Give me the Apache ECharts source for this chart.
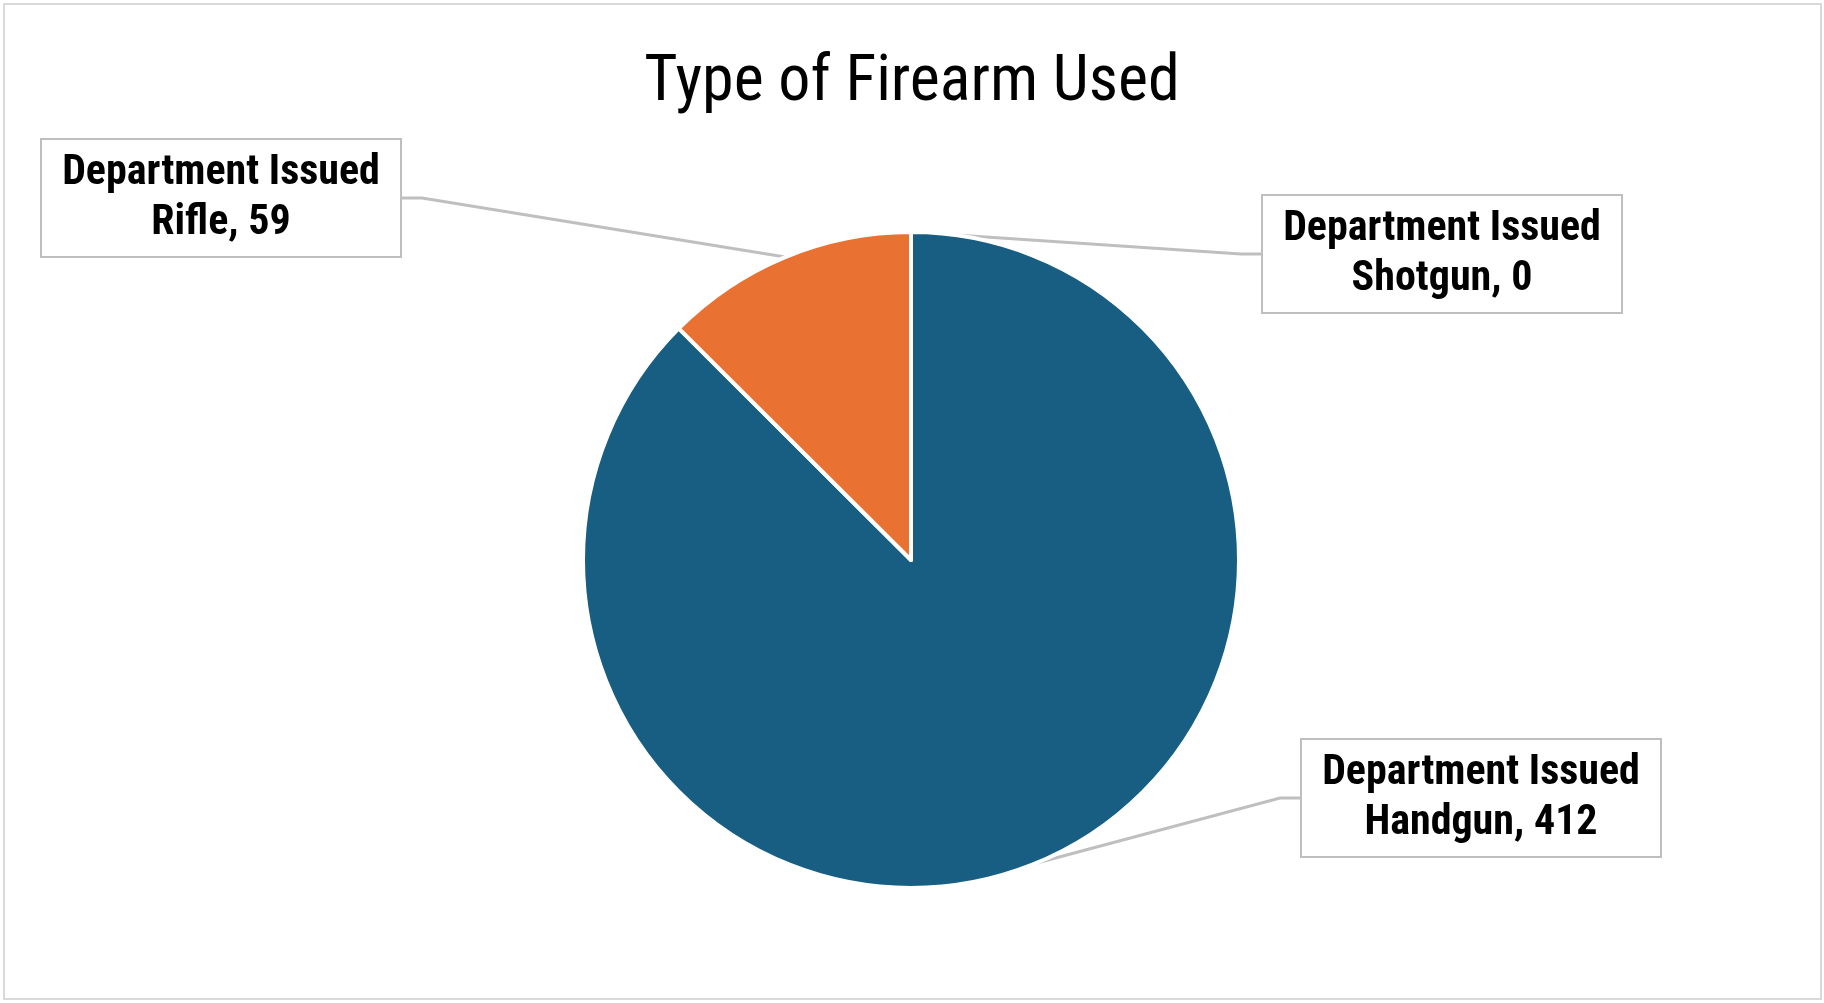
<!DOCTYPE html>
<html>
<head>
<meta charset="utf-8">
<script src="https://cdn.jsdelivr.net/npm/echarts@6/dist/echarts.min.js"></script>
<style>
html,body{margin:0;padding:0;background:#fff;}
#frame{position:absolute;left:3px;top:3px;width:1815px;height:993px;border:2px solid #D9D9D9;box-sizing:content-box;}
#chart{position:absolute;left:0;top:0;width:1824px;height:1003px;}
</style>
</head>
<body>
<div id="frame"></div>
<div id="chart"></div>
<script>
const titleText = 'Type of Firearm Used';
const categories = ['Department Issued Handgun', 'Department Issued Rifle', 'Department Issued Shotgun'];
const values = [412, 59, 0];
const colors = ['#175E82', '#E97132', '#196B24'];

const NARROW = '"Liberation Sans Narrow", "Roboto Condensed", "DejaVu Sans Condensed", "Liberation Sans", sans-serif';
const labelCenters = [[1481, 798], [221, 198], [1442, 254]];

const chart = echarts.init(document.getElementById('chart'));
chart.setOption({
  backgroundColor: 'transparent',
  animation: false,
  title: {
    text: titleText,
    left: 'center',
    top: 47,
    textStyle: { fontFamily: NARROW, fontSize: 64, fontWeight: 'normal', color: '#000' }
  },
  series: [{
    type: 'pie',
    center: [911, 560],
    radius: 328,
    startAngle: 90,
    clockwise: true,
    avoidLabelOverlap: false,
    data: categories.map((c, i) => ({ name: c, value: values[i], itemStyle: { color: colors[i] } })),
    itemStyle: { borderColor: '#fff', borderWidth: 4 },
    label: {
      show: true,
      position: 'outside',
      formatter: p => p.name.replace(' Issued ', ' Issued\n') + ', ' + p.value,
      fontFamily: NARROW,
      fontWeight: 'bold',
      fontSize: 42,
      lineHeight: 50,
      color: '#000',
      align: 'center',
      backgroundColor: '#fff',
      borderColor: '#BFBFBF',
      borderWidth: 2,
      width: 334,
      padding: [8, 12, 8, 12]
    },
    labelLine: {
      show: true,
      length: 20,
      length2: 20,
      lineStyle: { color: '#BFBFBF', width: 3 }
    },
    labelLayout: function (params) {
      const c = labelCenters[params.dataIndex];
      return { x: c[0], y: c[1], align: 'center', verticalAlign: 'middle' };
    }
  }]
});
</script>
</body>
</html>
